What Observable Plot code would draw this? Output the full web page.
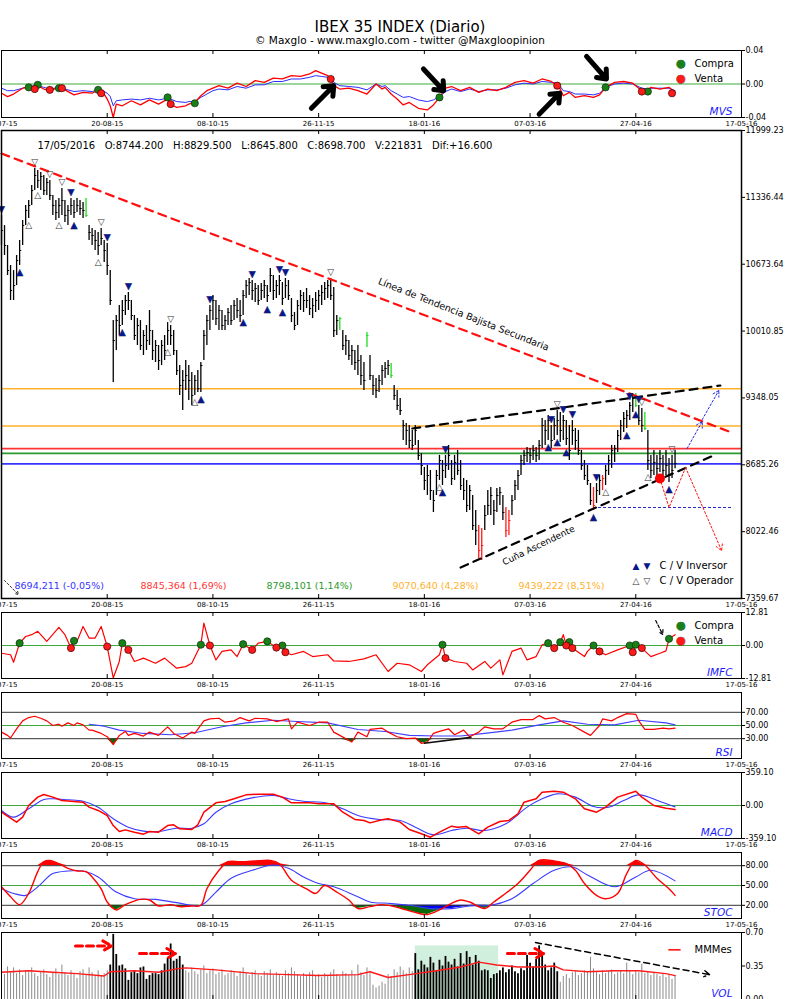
<!DOCTYPE html>
<html><head><meta charset="utf-8">
<script src="https://cdn.jsdelivr.net/npm/d3@7"></script>
<script src="https://cdn.jsdelivr.net/npm/@observablehq/plot@0.6"></script>
<style>
body{margin:0;background:#fff;font-family:"DejaVu Sans",sans-serif;}
#wrap{position:relative;width:800px;height:999px;overflow:hidden;background:#fff;}
.title{position:absolute;left:0;width:800px;text-align:center;color:#000;white-space:nowrap;}
</style></head><body>
<div id="wrap">
<div class="title" style="top:18px;font-size:15px;line-height:19px;">IBEX 35 INDEX (Diario)</div>
<div class="title" style="top:34px;font-size:10.5px;line-height:12px;">© Maxglo - www.maxglo.com - twitter @Maxgloopinion</div>
</div>
<script>
// ---------- axis ----------
const tickDays = [0,35,70,105,140,175,210,245];
const tickLabels = ["02-07-15","20-08-15","08-10-15","26-11-15","18-01-16","07-03-16","27-04-16","17-05-16"];

// ---------- price bars (daily) ----------
const barHigh = [11157,11057,10859,10661,10611,10760,10909,11107,11256,11305,
11454,11623,11603,11583,11553,11523,11504,11355,11305,11325,
11424,11305,11256,11325,11305,11325,11305,11285,11325,11057,
11028,11008,10988,11028,10909,10879,10611,10115,10165,10264,
10314,10363,10393,10314,10165,10135,10115,10016,10066,10215,
10016,9917,9868,9917,9967,10095,10066,10016,9818,9669,
9620,9719,9669,9600,9570,9620,9699,10016,10165,10264,
10363,10314,10264,10215,10165,10234,10264,10314,10334,10314,
10413,10512,10532,10512,10482,10462,10482,10512,10462,10631,
10562,10512,10562,10492,10532,10512,10334,10195,10314,10413,
10393,10433,10363,10334,10393,10413,10462,10492,10512,10532,
10442,10165,10145,10016,9967,9917,9868,9818,9868,9769,
9699,9997,9769,9570,9540,9570,9669,9699,9719,9689,
9471,9422,9342,9124,9095,9075,9026,9075,8926,8798,
8659,8679,8629,8430,8629,8778,8728,8778,8877,8728,
8778,8827,8728,8549,8530,8480,8381,8232,8083,8053,
8282,8430,8460,8331,8450,8460,8381,8262,8232,8381,
8530,8629,8778,8827,8857,8847,8877,8857,8926,9144,
9124,9174,9075,9144,9223,9203,9174,9124,9075,9124,
9045,9026,8827,8728,8679,8500,8460,8500,8579,8579,
8679,8778,8877,8877,9026,9124,9203,9223,9302,9372,
9392,9273,9243,9203,9026,8778,8827,8778,8827,8778,
8827,8748,8778,8829.5];
const barLow = [10859,10760,10562,10314,10314,10462,10661,10859,11057,11127,
11256,11404,11424,11404,11355,11355,11305,11157,11107,11127,
11157,11087,11057,11157,11127,11186,11157,11127,11137,10909,
10859,10810,10760,10859,10691,10562,10264,9501,9818,9967,
10066,10165,10215,10115,9917,9868,9818,9769,9818,9868,
9719,9699,9620,9669,9719,9868,9868,9769,9570,9372,
9223,9422,9322,9273,9372,9402,9402,9719,9868,10016,
10115,10066,10016,10016,10016,10066,10066,10115,10135,10095,
10165,10334,10363,10314,10294,10264,10314,10334,10294,10393,
10314,10334,10363,10264,10334,10314,10095,10016,10066,10215,
10195,10234,10165,10135,10195,10215,10264,10314,10334,10314,
9947,9967,10016,9818,9769,9719,9669,9620,9570,9471,
9422,9848,9521,9372,9342,9402,9471,9540,9570,9540,
9322,9223,9174,8926,8877,8847,8827,8877,8728,8579,
8430,8381,8331,8212,8381,8530,8480,8549,8629,8480,
8530,8579,8430,8331,8212,8232,8033,7885,7756,7736,
8033,8182,8182,8083,8212,8282,8133,7964,7984,8182,
8331,8430,8579,8679,8708,8698,8728,8708,8728,8847,
8877,8926,8847,8926,8976,8906,8926,8877,8728,8877,
8827,8778,8629,8530,8480,8282,8232,8302,8381,8430,
8480,8579,8649,8708,8807,8926,9006,9045,9124,9203,
9253,9075,9006,9026,8629,8549,8579,8549,8609,8530,
8579,8510,8549,8645.8];
const barClose = [11008,10859,10611,10413,10462,10710,10810,11057,11206,11256,
11404,11553,11504,11543,11404,11484,11355,11256,11186,11256,
11305,11157,11206,11256,11186,11256,11226,11206,11157,10988,
10958,10909,10859,10929,10810,10661,10314,9917,10115,10066,
10215,10314,10314,10165,9967,10066,9868,9967,9917,10016,
9818,9868,9719,9868,9818,10016,9967,9818,9620,9471,
9521,9570,9521,9372,9521,9441,9669,9967,10115,10215,
10314,10135,10215,10066,10115,10195,10115,10264,10215,10165,
10363,10462,10492,10413,10433,10314,10413,10462,10363,10562,
10413,10462,10512,10334,10462,10363,10165,10066,10264,10363,
10314,10314,10234,10264,10314,10363,10393,10433,10462,10363,
10016,10115,10135,9868,9917,9769,9818,9699,9719,9570,
9521,9967,9570,9471,9422,9521,9620,9640,9669,9570,
9372,9273,9223,9075,9026,8926,8877,9026,8778,8679,
8530,8579,8430,8331,8579,8728,8629,8679,8778,8549,
8708,8629,8480,8430,8282,8430,8083,8033,7835,7885,
8182,8282,8381,8232,8381,8410,8212,8033,8133,8331,
8480,8579,8728,8778,8807,8778,8827,8778,8877,9075,
9026,9124,8926,9075,9124,9026,9124,8946,8827,9026,
8926,8827,8679,8579,8530,8331,8282,8430,8530,8549,
8629,8728,8827,8847,8976,9075,9144,9174,9273,9342,
9273,9124,9075,9045,8728,8629,8708,8649,8748,8629,
8679,8579,8629,8698.7];
const greenBarDays = [28,112,121,129,210,213];
const redBarDays = [158,159,167,168,196,199];

// signals
const invBuyDays = [6,24,40,66,80,88,93,146,181,184,187,196,207,210,221];
const invSellDays = [0,23,35,42,69,83,92,94,147,182,186,189,197,208,211];
const opBuyDays = [9,12,19,32,55,64,145,200,214];
const opSellDays = [11,16,20,33,56,109,184,212,222];

// levels
const levelValues = [8694.211,8845.364,8798.101,9070.640,9439.222];
const levelLabels = ["8694,211 (-0,05%)","8845,364 (1,69%)","8798,101 (1,14%)","9070,640 (4,28%)","9439,222 (8,51%)"];
const levelPalette = ["#3535ff","#ff3535","#2c9a2c","#ffb12b","#ffb12b"];

// trend lines / annotations (day, price)
const bajistaDays = [0,242], bajistaPrices = [11771,9002];
const wedgeUpDays = [136,238], wedgeUpPrices = [9045,9471];
const wedgeLowDays = [152,235], wedgeLowPrices = [7667,8767];
const redPathDays = [218,221,226.5], redPathPrices = [8549,8262,8658];
const redArrowEnd = [238.4,7835];
const blueArrowDays = [[227,232],[232,237.5]], blueArrowPrices = [[8847,9114],[9134,9422]];
const supportLevel = 8262, supportDays = [196,242];

// ---------- MVS ----------
const mvsDays = [0,2,4,7,9,12,14,16,19,21,24,27,30,32,34,35,36,37,38,40,43,46,49,52,55,56,58,61,62,64,66,68,70,72,75,78,81,84,87,90,93,96,99,102,104,106,108,109,110,112,115,118,121,124,126,127,129,131,133,135,138,141,143,145,147,149,152,155,158,161,164,167,170,173,176,179,182,184,185,186,188,190,193,196,198,200,203,206,209,212,214,215,218,221,223];
const mvsRed = [-0.011,-0.015,-0.012,-0.005,-0.004,-0.002,-0.006,-0.008,-0.004,-0.007,-0.013,-0.010,-0.011,-0.007,-0.012,-0.018,-0.026,-0.040,-0.024,-0.026,-0.020,-0.025,-0.019,-0.024,-0.018,-0.024,-0.028,-0.026,-0.024,-0.022,-0.014,-0.008,-0.005,-0.002,-0.005,0.001,-0.003,0.004,0.002,0.007,0.006,0.010,0.009,0.012,0.016,0.013,0.010,0.006,-0.002,-0.006,-0.005,-0.008,-0.012,0.000,-0.006,-0.004,-0.012,-0.018,-0.025,-0.022,-0.029,-0.031,-0.025,-0.016,-0.005,-0.003,-0.008,-0.004,-0.010,-0.006,-0.008,-0.004,0.002,0.004,0.001,0.006,0.003,-0.002,-0.006,-0.014,-0.010,-0.016,-0.014,-0.016,-0.013,-0.004,0.002,0.003,0.001,-0.008,-0.007,-0.004,-0.006,-0.004,-0.010];
const mvsBlue = [-0.005,-0.008,-0.008,-0.005,-0.003,-0.002,-0.004,-0.006,-0.004,-0.006,-0.009,-0.008,-0.009,-0.007,-0.009,-0.011,-0.015,-0.026,-0.020,-0.019,-0.018,-0.019,-0.017,-0.019,-0.017,-0.018,-0.021,-0.022,-0.021,-0.021,-0.016,-0.012,-0.008,-0.006,-0.007,-0.003,-0.005,-0.001,-0.001,0.003,0.003,0.006,0.006,0.008,0.010,0.009,0.008,0.006,0.002,-0.002,-0.003,-0.004,-0.007,0.000,-0.003,-0.002,-0.008,-0.012,-0.016,-0.015,-0.019,-0.021,-0.019,-0.015,-0.009,-0.006,-0.009,-0.006,-0.009,-0.007,-0.007,-0.005,-0.001,0.001,0.000,0.003,0.002,0.001,-0.003,-0.008,-0.009,-0.012,-0.012,-0.013,-0.011,-0.004,0.000,0.001,0.000,-0.005,-0.006,-0.005,-0.005,-0.005,-0.008];
const mvsBuyDays = [9,12,19,32,55,64,145,200,214];
const mvsBuyVals = [-0.004,-0.001,-0.005,-0.007,-0.016,-0.023,-0.016,-0.004,-0.009];
const mvsSellDays = [11,16,20,33,56,109,184,212,222];
const mvsSellVals = [-0.006,-0.007,-0.005,-0.011,-0.024,0.006,-0.002,-0.009,-0.011];
const mvsArrowFrom = [[102.6,-0.029],[139.7,0.018],[178,-0.036],[193.7,0.033]];
const mvsArrowTo = [[110,-0.002],[146.4,-0.008],[184.8,-0.011],[200.3,0.006]];

// ---------- IMFC ----------
const imfcDays = [0,3,4,6,8,10,12,15,19,21,23,24,25,27,29,31,33,35,37,39,40,42,44,47,51,54,58,61,63,66,67,69,71,73,76,78,80,83,85,88,91,93,94,96,100,103,108,110,115,120,124,128,131,135,139,141,145,146,147,150,154,156,160,162,165,166,169,172,174,177,179,181,183,185,186,187,188,189,193,194,196,198,200,204,208,209,210,212,215,218,220,221,223];
const imfcVals = [-3.0,-3.6,-6.5,0.9,3.5,4.2,5.5,1.6,7.0,4.2,-1.0,1.8,1.6,7.4,2.9,2.9,7.4,-0.4,-12.6,-6.2,0.9,-1.7,-6.2,-4.9,-6.9,-4.9,-8.8,-8.2,-6.9,0.3,8.7,0.0,-5.6,-2.3,-1.7,-4.3,0.5,-1.7,0.9,1.6,-0.8,0.0,-2.6,-3.6,-2.3,-4.3,-3.6,-6.0,-6.2,-5.2,-3.6,-10.1,-6.9,-7.5,-10.1,-7.5,-3.6,0.3,-4.9,-6.2,-6.9,-9.5,-6.2,-8.8,-5.6,-11.4,-2.3,-1.0,-5.6,-4.3,0.3,0.9,-1.0,1.3,4.2,0.0,1.3,-1.0,-4.3,-2.3,0.0,-2.3,-3.6,-1.7,0.0,-2.6,0.3,-1.0,-4.3,-3.0,-2.1,2.6,4.2];
const imfcBuyDays = [6,24,40,66,80,88,93,146,181,185,188,196,208,210,221];
const imfcSellDays = [23,35,42,69,83,91,94,147,183,187,189,198,209,212];

// ---------- RSI ----------
const rsiDays = [0,2,3,5,7,9,11,13,15,17,19,20,22,24,25,27,29,30,33,35,37,39,41,42,44,47,49,52,55,57,60,63,64,67,69,72,74,77,79,82,84,88,91,95,96,98,102,105,108,110,112,116,118,121,122,126,128,131,134,137,139,141,143,145,148,150,153,155,158,160,163,166,169,172,176,178,180,183,186,189,193,195,198,199,202,204,207,210,211,213,216,219,221,223];
const rsiVals = [40,35,31,45,57,62,64,61,57,50,52,49,54,50,54,51,43,43,38,33,21,35,41,35,38,34,40,35,48,38,31,40,38,57,60,61,55,57,62,57,61,60,56,60,45,55,50,55,55,40,35,25,40,33,44,46,40,33,30,31,23,25,38,41,45,36,43,33,40,48,45,45,55,59,59,65,60,62,55,50,40,35,50,60,57,62,68,67,57,44,44,46,45,46];
const rsiMaDays = [29,34,39,47,56,64,73,81,90,98,108,118,127,135,144,152,160,169,178,186,194,203,211,220,223];
const rsiMaVals = [52,49,43,38,36,39,48,54,58,56,54,44,41,35,34,34,38,43,51,57,52,51,58,54,51];
const rsiDivDays = [140,155.4], rsiDivVals = [23.2,32];

// ---------- MACD ----------
const macdDays = [0,3,5,7,9,12,14,17,20,24,27,29,32,35,37,39,41,44,47,49,52,55,57,59,63,65,67,71,74,77,81,85,90,93,96,102,105,110,113,117,120,122,126,128,132,135,139,142,145,149,151,154,158,161,165,168,171,173,177,179,183,186,190,193,197,200,204,210,212,216,220,223];
const macdVals = [-73,-138,-181,-127,0,91,120,91,54,44,36,-18,-54,-109,-218,-283,-265,-290,-312,-283,-290,-218,-210,-254,-261,-210,-73,29,44,73,116,123,123,91,29,29,18,18,-73,-152,-163,-189,-156,-145,-181,-261,-308,-345,-290,-225,-236,-229,-308,-236,-174,-163,-91,36,73,145,156,145,73,-36,-73,-18,91,156,91,0,-29,-44];
const macdSigDays = [0,4,9,14,17,22,27,32,37,42,47,52,58,63,67,71,76,83,90,95,100,108,113,118,125,132,137,143,149,154,160,167,174,179,184,190,196,201,206,211,218,223];
const macdSigVals = [-54,-127,-36,65,73,62,47,-18,-145,-236,-279,-283,-247,-247,-199,-73,18,83,109,73,47,25,-36,-109,-152,-163,-236,-319,-272,-247,-272,-199,-18,73,127,91,-11,-18,54,116,44,-15];

// ---------- STOC ----------
const stocKDays = [0,3,6,9,12,14,16,19,22,25,28,30,33,35,38,41,46,49,52,56,59,63,66,68,72,75,79,84,89,92,96,101,104,107,111,115,118,122,126,130,134,138,141,145,149,152,155,160,163,166,171,175,178,183,187,190,193,197,200,204,207,210,213,217,221,223];
const stocKVals = [48,33,21,38,71,86,88,83,76,72,71,63,45,25,13,21,29,28,19,21,18,19,20,45,73,86,86,87,88,83,58,45,38,50,40,28,15,18,21,18,13,8,6,13,23,28,25,15,25,35,53,73,88,87,83,73,53,35,30,38,68,88,81,61,45,35];
const stocDDays = [0,4,8,12,17,22,27,32,38,44,51,58,66,71,76,83,90,95,100,105,110,117,122,128,135,142,149,155,162,169,176,183,189,194,203,210,215,223];
const stocDVals = [45,38,35,48,68,72,72,63,40,30,29,24,20,40,61,73,81,76,63,53,48,35,25,23,20,15,15,19,20,30,53,73,78,66,48,63,73,57];

// ---------- VOL ----------
const volVals = [0.30,0.26,0.34,0.29,0.33,0.27,0.31,0.25,0.30,0.28,
0.33,0.27,0.24,0.29,0.31,0.26,0.23,0.28,0.32,0.26,
0.36,0.28,0.25,0.30,0.27,0.22,0.29,0.31,0.26,0.33,
0.28,0.25,0.30,0.24,0.27,0.30,0.36,0.68,0.47,0.35,
0.36,0.32,0.20,0.28,0.30,0.27,0.33,0.34,0.21,0.25,
0.27,0.27,0.26,0.30,0.37,0.43,0.58,0.40,0.42,0.45,
0.36,0.30,0.28,0.33,0.29,0.26,0.31,0.35,0.27,0.30,
0.32,0.26,0.28,0.31,0.25,0.27,0.30,0.28,0.24,0.29,
0.33,0.27,0.25,0.28,0.30,0.26,0.24,0.29,0.27,0.31,
0.25,0.28,0.26,0.24,0.30,0.27,0.33,0.29,0.26,0.24,
0.27,0.25,0.28,0.30,0.24,0.26,0.23,0.27,0.25,0.28,
0.31,0.26,0.24,0.29,0.27,0.25,0.30,0.26,0.36,0.28,
0.25,0.33,0.27,0.15,0.12,0.14,0.18,0.16,0.26,0.24,
0.31,0.28,0.34,0.30,0.27,0.33,0.29,0.48,0.31,0.40,
0.36,0.33,0.44,0.38,0.30,0.41,0.35,0.45,0.39,0.36,
0.42,0.34,0.48,0.37,0.50,0.44,0.36,0.46,0.40,0.30,
0.31,0.30,0.22,0.26,0.27,0.30,0.33,0.28,0.31,0.35,
0.29,0.27,0.32,0.30,0.46,0.38,0.34,0.42,0.56,0.48,
0.36,0.30,0.33,0.38,0.29,0.18,0.24,0.26,0.22,0.28,
0.29,0.25,0.27,0.30,0.29,0.44,0.32,0.28,0.26,0.30,
0.27,0.29,0.31,0.26,0.28,0.30,0.27,0.38,0.29,0.26,
0.30,0.28,0.37,0.27,0.29,0.25,0.28,0.26,0.24,0.27,
0.23,0.26,0.21,0.25];
const volHeavyRanges = [[36,60],[137,184]];
const mmDays = [0,9,17,25,34,36,44,52,58,61,71,84,95,105,118,122,128,135,144,152,158,164,171,178,183,186,194,203,211,220,223];
const mmVals = [0.285,0.30,0.285,0.27,0.245,0.29,0.30,0.285,0.32,0.33,0.31,0.27,0.26,0.25,0.26,0.29,0.23,0.26,0.30,0.34,0.39,0.36,0.34,0.34,0.35,0.31,0.29,0.30,0.30,0.27,0.25];
const volBox = [137,164.6,0.56];
const volRedArrows = [[24.5,36.4,0.56],[45.7,57.6,0.48],[167.5,179.5,0.48]];
const volBlackArrow = [[176.8,0.595],[234.4,0.26]];

// ================= drawing =================
const wrap = document.getElementById("wrap");
const FONT = "DejaVu Sans, sans-serif";
const pts = (days, vals) => days.map((d,k)=>({d, v: vals[k]}));

function panel(top, frameH, yDomain, yTicks, yFmt, marks, frameW = 1) {
  const mt = 8, mb = 16;
  const svg = Plot.plot({
    width: 800, height: frameH + mt + mb,
    marginLeft: 1, marginRight: 59, marginTop: mt, marginBottom: mb,
    style: {background: "transparent", fontFamily: FONT, overflow: "visible", color: "#000"},
    x: {domain: [0,245], label: null},
    y: {domain: yDomain, label: null},
    marks: [
      ...marks,
      Plot.ruleX(tickDays, {stroke: "#000", insetBottom: frameH - 4}),
      Plot.ruleX(tickDays, {stroke: "#000", insetTop: frameH - 4}),
      Plot.frame({stroke: "#000", strokeWidth: frameW}),
      Plot.axisX(tickDays, {anchor: "bottom", label: null, tickSize: 0, tickPadding: 4, fontSize: 7, fill: "#000",
        tickFormat: d => tickLabels[tickDays.indexOf(d)]}),
      Plot.axisY(yTicks, {anchor: "right", label: null, tickSize: 3, tickPadding: 1, fontSize: 8, fill: "#000", tickFormat: yFmt})
    ]
  });
  svg.style.position = "absolute";
  svg.style.left = "0px";
  svg.style.top = (top - mt) + "px";
  wrap.appendChild(svg);
}
const fmt2 = d => d.toFixed(2);
const panelLabel = (t) => Plot.text([t], {frameAnchor: "bottom-right", dx: -9, dy: -3, lineAnchor: "bottom", textAnchor: "end", fill: "#1a1aff", fontStyle: "italic", fontSize: 10.5});
const legendDots = [
  Plot.text(["●"], {frameAnchor: "top-right", dx: -56, dy: 9, fill: "#178017", stroke: "#0b2e0b", strokeWidth: 0.5, fontSize: 11}),
  Plot.text(["Compra"], {frameAnchor: "top-right", dx: -47, dy: 9, textAnchor: "start", fill: "#000", fontSize: 10}),
  Plot.text(["●"], {frameAnchor: "top-right", dx: -56, dy: 24, fill: "#ff1a1a", stroke: "#3a0000", strokeWidth: 0.5, fontSize: 11}),
  Plot.text(["Venta"], {frameAnchor: "top-right", dx: -47, dy: 24, textAnchor: "start", fill: "#000", fontSize: 10})
];

// ---- MVS ----
panel(50, 67, [-0.04, 0.04], [-0.04, 0, 0.04], fmt2, [
  Plot.ruleY([0], {stroke: "#3cab3c", strokeWidth: 1.2}),
  Plot.line(pts(mvsDays, mvsBlue), {x: "d", y: "v", stroke: "#2b2bff", strokeWidth: 1}),
  Plot.line(pts(mvsDays, mvsRed), {x: "d", y: "v", stroke: "#ff0000", strokeWidth: 1.3}),
  Plot.dot(pts(mvsBuyDays, mvsBuyVals), {x: "d", y: "v", r: 3.6, fill: "#178017", stroke: "#0b2e0b", strokeWidth: 0.7}),
  Plot.dot(pts(mvsSellDays, mvsSellVals), {x: "d", y: "v", r: 3.6, fill: "#ff1a1a", stroke: "#3a0000", strokeWidth: 0.7}),
  Plot.arrow(mvsArrowFrom.map((f,k)=>({x1: f[0], y1: f[1], x2: mvsArrowTo[k][0], y2: mvsArrowTo[k][1]})),
    {x1: "x1", y1: "y1", x2: "x2", y2: "y2", stroke: "#000", strokeWidth: 5, headLength: 4, headAngle: 80}),
  ...legendDots,
  panelLabel("MVS")
]);

// ---- Main price panel ----
const bars = barHigh.map((h,i)=>({i, h, l: barLow[i], c: barClose[i],
  kind: greenBarDays.includes(i) ? "up" : redBarDays.includes(i) ? "down" : "n"}));
const barStroke = d => d.kind === "up" ? "#1edc1e" : d.kind === "down" ? "#ff1a1a" : "#000";
const levelData = levelValues.map((v,k)=>({v, k}));
panel(130, 468, [7359.67, 11999.23], [11999.23,11336.44,10673.64,10010.85,9348.05,8685.26,8022.46,7359.67], fmt2, [
  Plot.ruleY(levelData, {y: "v", stroke: d => levelPalette[d.k], strokeWidth: d => d.k >= 3 ? 1.5 : 1.8}),
  Plot.ruleY([supportLevel], {x1: supportDays[0], x2: supportDays[1], stroke: "#2323c8", strokeWidth: 1, strokeDasharray: "3,2"}),
  Plot.ruleX(bars, {x: "i", y1: "l", y2: "h", stroke: barStroke, strokeWidth: 1.3}),
  Plot.ruleY(bars, {y: "c", x1: "i", x2: d => d.i + 0.7, stroke: barStroke, strokeWidth: 1}),
  Plot.line(pts(bajistaDays, bajistaPrices), {x: "d", y: "v", stroke: "#ff1010", strokeWidth: 2.2, strokeDasharray: "8,6"}),
  Plot.line(pts(wedgeUpDays, wedgeUpPrices), {x: "d", y: "v", stroke: "#000", strokeWidth: 2.2, strokeDasharray: "8,6"}),
  Plot.line(pts(wedgeLowDays, wedgeLowPrices), {x: "d", y: "v", stroke: "#000", strokeWidth: 2.2, strokeDasharray: "8,6"}),
  Plot.line(pts(redPathDays, redPathPrices), {x: "d", y: "v", stroke: "#ff1010", strokeWidth: 1, strokeDasharray: "2,2"}),
  Plot.arrow([0], {x1: redPathDays[2], y1: redPathPrices[2], x2: redArrowEnd[0], y2: redArrowEnd[1], stroke: "#ff1010", strokeWidth: 1, strokeDasharray: "2,2", headLength: 10}),
  Plot.arrow(blueArrowDays.map((dd,k)=>({x1: dd[0], x2: dd[1], y1: blueArrowPrices[k][0], y2: blueArrowPrices[k][1]})),
    {x1: "x1", y1: "y1", x2: "x2", y2: "y2", stroke: "#2a2ae0", strokeWidth: 1, strokeDasharray: "2,2", headLength: 10}),
  Plot.dot([0], {x: redPathDays[0], y: redPathPrices[0], r: 5, fill: "#ff0000", stroke: "none"}),
  Plot.arrow([0], {x1: 1, y1: 7538, x2: 5.6, y2: 7399, stroke: "#000", strokeWidth: 0.8, strokeDasharray: "2,2", headLength: 6}),
  Plot.text(invBuyDays, {x: d => d, y: d => barLow[d], text: () => "▲", dy: 7, fill: "#0a168c", stroke: "#000", strokeWidth: 0.3, fontSize: 9}),
  Plot.text(invSellDays, {x: d => d, y: d => barHigh[d], text: () => "▼", dy: -6, fill: "#0a168c", stroke: "#000", strokeWidth: 0.3, fontSize: 9}),
  Plot.text(opBuyDays, {x: d => d, y: d => barLow[d], text: () => "△", dy: 7, fill: "#333", fontSize: 9}),
  Plot.text(opSellDays, {x: d => d, y: d => barHigh[d], text: () => "▽", dy: -6, fill: "#333", fontSize: 9}),
  Plot.text(["Línea de Tendencia Bajista Secundaria"], {x: 153, y: 10175, rotate: 21.5, fontSize: 9.5, fill: "#000"}),
  Plot.text(["Cuña Ascendente"], {x: 177.8, y: 7885, rotate: -26, fontSize: 9, fill: "#000"}),
  Plot.text(["17/05/2016\u00a0\u00a0\u00a0O:8744.200\u00a0\u00a0\u00a0H:8829.500\u00a0\u00a0\u00a0L:8645.800\u00a0\u00a0\u00a0C:8698.700\u00a0\u00a0\u00a0V:221831\u00a0\u00a0\u00a0Dif:+16.600"],
    {frameAnchor: "top-left", dx: 36, dy: 11, lineAnchor: "top", textAnchor: "start", fontSize: 10, fill: "#000"}),
  ...levelLabels.map((t,k)=>Plot.text([t], {frameAnchor: "bottom-left", dx: 13 + 126*k, dy: -10, textAnchor: "start", fontSize: 9.5, fill: levelPalette[k]})),
  Plot.text(["▲"], {frameAnchor: "bottom-right", dx: -102, dy: -30, fontSize: 9, fill: "#0a168c"}),
  Plot.text(["▼"], {frameAnchor: "bottom-right", dx: -91, dy: -30, fontSize: 9, fill: "#0a168c"}),
  Plot.text(["C / V Inversor"], {frameAnchor: "bottom-right", dx: -82, dy: -30, textAnchor: "start", fontSize: 10, fill: "#000"}),
  Plot.text(["△"], {frameAnchor: "bottom-right", dx: -102, dy: -15, fontSize: 9, fill: "#333"}),
  Plot.text(["▽"], {frameAnchor: "bottom-right", dx: -91, dy: -15, fontSize: 9, fill: "#333"}),
  Plot.text(["C / V Operador"], {frameAnchor: "bottom-right", dx: -82, dy: -15, textAnchor: "start", fontSize: 10, fill: "#000"})
], 1.5);

// ---- IMFC ----
const imfcMap = new Map(imfcDays.map((d,k)=>[d, imfcVals[k]]));
panel(612, 66, [-12.81, 12.81], [-12.81, 0, 12.81], fmt2, [
  Plot.ruleY([0], {stroke: "#3cab3c", strokeWidth: 1.2}),
  Plot.line(pts(imfcDays, imfcVals), {x: "d", y: "v", stroke: "#ff0000", strokeWidth: 1.2}),
  Plot.dot(imfcBuyDays, {x: d => d, y: d => imfcMap.get(d), r: 3.6, fill: "#178017", stroke: "#0b2e0b", strokeWidth: 0.7}),
  Plot.dot(imfcSellDays, {x: d => d, y: d => imfcMap.get(d), r: 3.6, fill: "#ff1a1a", stroke: "#3a0000", strokeWidth: 0.7}),
  Plot.arrow([0], {x1: 216.6, y1: 9.7, x2: 218.9, y2: 4.3, stroke: "#000", strokeWidth: 1.2, strokeDasharray: "3,2", headLength: 6}),
  ...legendDots,
  panelLabel("IMFC")
]);

// ---- RSI ----
const rsiPts = pts(rsiDays, rsiVals);
panel(692, 66, [0, 100], [30, 50, 70], fmt2, [
  Plot.areaY(rsiPts, {x: "d", y1: 30, y2: d => Math.min(d.v, 30), fill: "#0a6a0a"}),
  Plot.ruleY([70, 30], {stroke: "#333", strokeWidth: 1}),
  Plot.ruleY([50], {stroke: "#3cab3c", strokeWidth: 1.2}),
  Plot.line(pts(rsiMaDays, rsiMaVals), {x: "d", y: "v", stroke: "#4040ff", strokeWidth: 1.1}),
  Plot.line(rsiPts, {x: "d", y: "v", stroke: "#ff0000", strokeWidth: 1.2}),
  Plot.line(pts(rsiDivDays, rsiDivVals), {x: "d", y: "v", stroke: "#111", strokeWidth: 1.6}),
  panelLabel("RSI")
]);

// ---- MACD ----
panel(772, 66, [-359.1, 359.1], [-359.1, 0, 359.1], fmt2, [
  Plot.ruleY([0], {stroke: "#3cab3c", strokeWidth: 1.2}),
  Plot.line(pts(macdSigDays, macdSigVals), {x: "d", y: "v", stroke: "#3a3aff", strokeWidth: 1.1, curve: "catmull-rom"}),
  Plot.line(pts(macdDays, macdVals), {x: "d", y: "v", stroke: "#ff0000", strokeWidth: 1.5}),
  panelLabel("MACD")
]);

// ---- STOC ----
const kPts = pts(stocKDays, stocKVals), dPts = pts(stocDDays, stocDVals);
panel(852, 66, [0, 100], [20, 50, 80], fmt2, [
  Plot.areaY(kPts, {x: "d", y1: 80, y2: d => Math.max(d.v, 80), fill: "#ff0000"}),
  Plot.areaY(kPts, {x: "d", y1: 20, y2: d => Math.min(d.v, 20), fill: "#0a6a0a"}),
  Plot.areaY(dPts, {x: "d", y1: 20, y2: d => Math.min(d.v, 20), fill: "#0000ff"}),
  Plot.ruleY([80, 20], {stroke: "#333", strokeWidth: 1}),
  Plot.ruleY([50], {stroke: "#3cab3c", strokeWidth: 1.2}),
  Plot.line(dPts, {x: "d", y: "v", stroke: "#3a3aff", strokeWidth: 1.1, curve: "catmull-rom"}),
  Plot.line(kPts, {x: "d", y: "v", stroke: "#ff0000", strokeWidth: 1.4, curve: "catmull-rom"}),
  panelLabel("STOC")
]);

// ---- VOL ----
const volData = volVals.map((v,i)=>({i, v, heavy: volHeavyRanges.some(r => i >= r[0] && i <= r[1])}));
panel(932, 67, [0, 0.70], [0, 0.35, 0.70], fmt2, [
  Plot.rect([0], {x1: volBox[0], x2: volBox[1], y1: 0, y2: volBox[2], fill: "#c9ecd7", fillOpacity: 0.85}),
  Plot.ruleX(volData, {x: "i", y1: 0, y2: "v", stroke: d => d.heavy ? "#000" : "#8a8a8a", strokeWidth: d => d.heavy ? 1.8 : 1}),
  Plot.line(pts(mmDays, mmVals), {x: "d", y: "v", stroke: "#ff1a1a", strokeWidth: 1.4}),
  Plot.arrow(volRedArrows.map(a=>({x1: a[0], x2: a[1], y: a[2]})), {x1: "x1", x2: "x2", y1: "y", y2: "y", stroke: "#ff0000", strokeWidth: 3, strokeDasharray: "7,4", headLength: 5}),
  Plot.arrow([0], {x1: volBlackArrow[0][0], y1: volBlackArrow[0][1], x2: volBlackArrow[1][0], y2: volBlackArrow[1][1], stroke: "#000", strokeWidth: 1.5, strokeDasharray: "6,4", headLength: 6}),
  Plot.text(["━━"], {frameAnchor: "top-right", dx: -61, dy: 13, fill: "#ff1a1a", fontSize: 10}),
  Plot.text(["MMMes"], {frameAnchor: "top-right", dx: -47, dy: 13, textAnchor: "start", fill: "#000", fontSize: 10}),
  panelLabel("VOL")
]);
</script>
</body></html>
